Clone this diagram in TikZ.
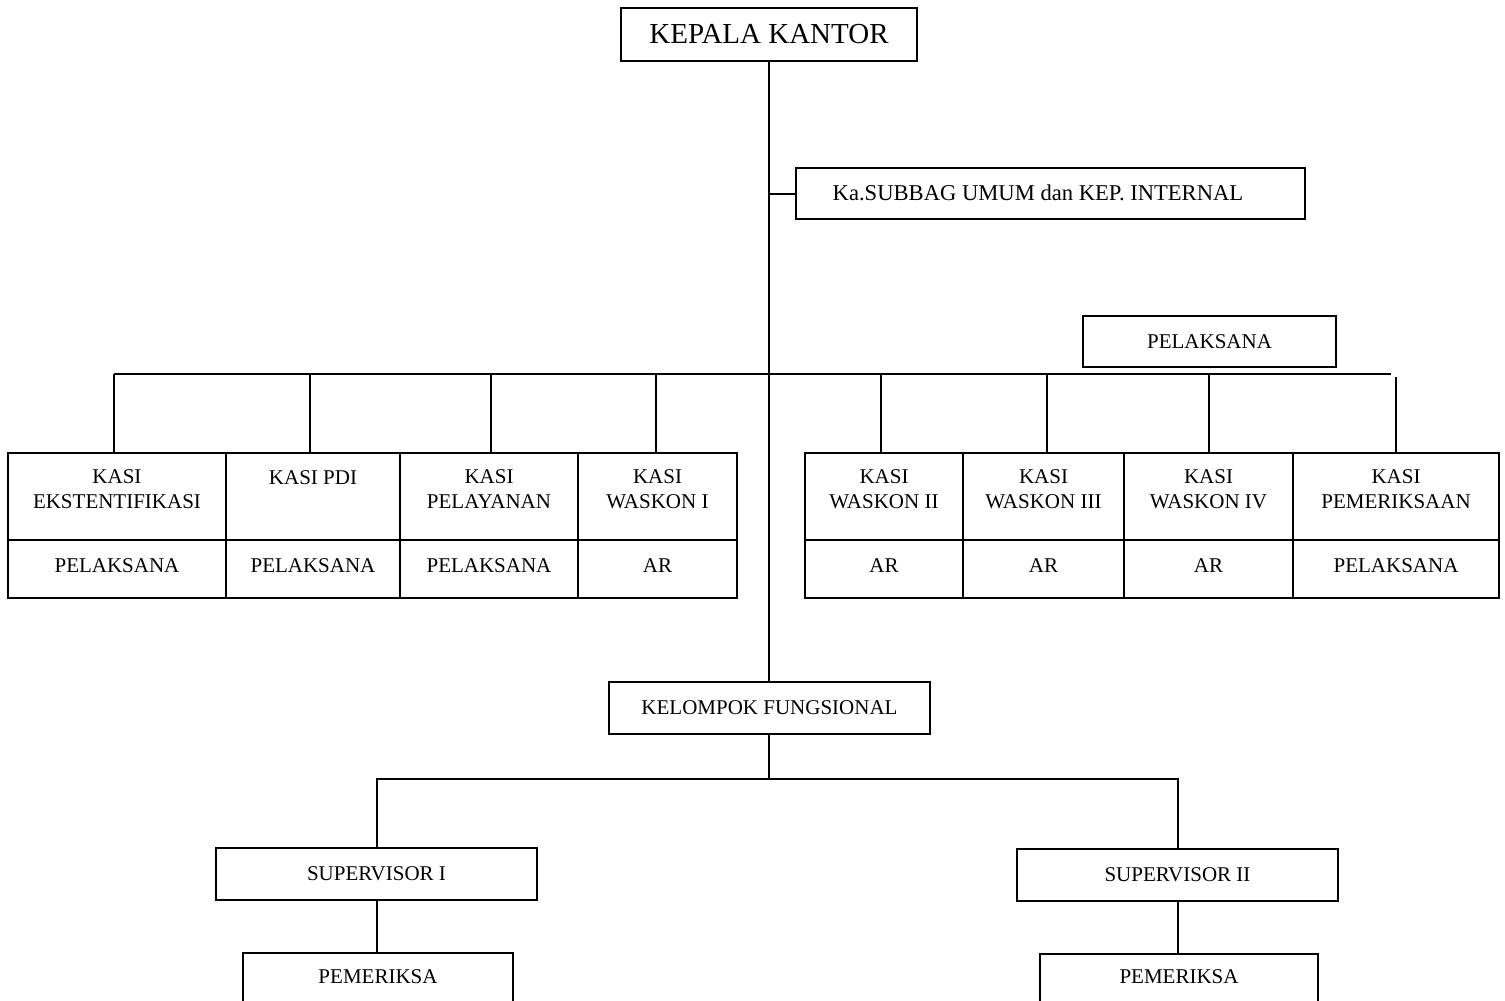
\documentclass[tikz,border=0pt]{standalone}
\usepackage{fontspec}
\setmainfont{Liberation Serif}
\tikzset{
  ln/.style={line width=1pt},
  box/.style={draw, line width=1pt, inner sep=0pt, outer sep=0pt, align=center, font=\fontsize{10.5}{12.5}\selectfont},
  txt/.style={inner sep=0pt, align=center, font=\fontsize{10.5}{12.5}\selectfont},
}
\begin{document}
\begin{tikzpicture}[x=0.5pt,y=-0.5pt]
\useasboundingbox (0,0) rectangle (1505,1001);
\clip (0,0) rectangle (1505,1001);
% top
\node[box, minimum width=148pt, minimum height=26.5pt, font=\fontsize{14.5}{16}\selectfont] (kk) at (769,34.5) {KEPALA KANTOR};
\node[box, minimum width=254.5pt, minimum height=25.5pt] (sub) at (1050.5,193.5) {};
\node[txt, font=\fontsize{11.3}{13}\selectfont] (subt) at (1038,193) {Ka.SUBBAG UMUM dan KEP. INTERNAL};
\node[box, minimum width=126.5pt, minimum height=25.5pt] (pel) at (1209.5,341.5) {PELAKSANA};
% left table
\node[box, minimum width=109pt, minimum height=43.5pt] (l1t) at (117,496.5) {};
\node[box, minimum width=87pt, minimum height=43.5pt] (l2t) at (313,496.5) {};
\node[box, minimum width=89pt, minimum height=43.5pt] (l3t) at (489,496.5) {};
\node[box, minimum width=79.5pt, minimum height=43.5pt] (l4t) at (657.5,496.5) {};
\node[box, minimum width=109pt, minimum height=29pt] (l1b) at (117,569) {};
\node[box, minimum width=87pt, minimum height=29pt] (l2b) at (313,569) {};
\node[box, minimum width=89pt, minimum height=29pt] (l3b) at (489,569) {};
\node[box, minimum width=79.5pt, minimum height=29pt] (l4b) at (657.5,569) {};
% right table
\node[box, minimum width=79pt, minimum height=43.5pt] (r1t) at (884,496.5) {};
\node[box, minimum width=80.5pt, minimum height=43.5pt] (r2t) at (1043.5,496.5) {};
\node[box, minimum width=84.5pt, minimum height=43.5pt] (r3t) at (1208.5,496.5) {};
\node[box, minimum width=103pt, minimum height=43.5pt] (r4t) at (1396,496.5) {};
\node[box, minimum width=79pt, minimum height=29pt] (r1b) at (884,569) {};
\node[box, minimum width=80.5pt, minimum height=29pt] (r2b) at (1043.5,569) {};
\node[box, minimum width=84.5pt, minimum height=29pt] (r3b) at (1208.5,569) {};
\node[box, minimum width=103pt, minimum height=29pt] (r4b) at (1396,569) {};
% table texts
\node[txt] (l1tx) at (117,489) {KASI\\EKSTENTIFIKASI};
\node[txt] (l2tx) at (313,478) {KASI PDI};
\node[txt] (l3tx) at (489,489) {KASI\\PELAYANAN};
\node[txt] (l4tx) at (657.5,489) {KASI\\WASKON I};
\node[txt] (r1tx) at (884,489) {KASI\\WASKON II};
\node[txt] (r2tx) at (1043.5,489) {KASI\\WASKON III};
\node[txt] (r3tx) at (1208.5,489) {KASI\\WASKON IV};
\node[txt] (r4tx) at (1396,489) {KASI\\PEMERIKSAAN};
\node[txt] (l1bx) at (117,566) {PELAKSANA};
\node[txt] (l2bx) at (313,566) {PELAKSANA};
\node[txt] (l3bx) at (489,566) {PELAKSANA};
\node[txt] (l4bx) at (657.5,566) {AR};
\node[txt] (r1bx) at (884,566) {AR};
\node[txt] (r2bx) at (1043.5,566) {AR};
\node[txt] (r3bx) at (1208.5,566) {AR};
\node[txt] (r4bx) at (1396,566) {PELAKSANA};
% lower part
\node[box, minimum width=160.5pt, minimum height=26pt] (kf) at (769.5,708) {KELOMPOK FUNGSIONAL};
\node[box, minimum width=160.5pt, minimum height=26pt] (s1) at (376.5,874) {SUPERVISOR I};
\node[box, minimum width=160.5pt, minimum height=26pt] (s2) at (1177.5,875) {SUPERVISOR II};
\node[box, minimum width=135pt, minimum height=45pt] (p1) at (378,998) {};
\node[box, minimum width=139pt, minimum height=45pt] (p2) at (1179,999) {};
\node[txt] (p1t) at (378,977) {PEMERIKSA};
\node[txt] (p2t) at (1179,977) {PEMERIKSA};
% connectors
\coordinate (busL) at (114,374);
\coordinate (busR) at (1391,374);
\coordinate (d1) at (114,374);
\coordinate (d2) at (310,374);
\coordinate (d3) at (491,374);
\coordinate (d4) at (656,374);
\coordinate (d5) at (881,374);
\coordinate (d6) at (1047,374);
\coordinate (d7) at (1209,374);
\coordinate (d8) at (1396,377);
\coordinate (fb) at (769,779);
\draw[ln] (kk.south) -- (kk.south |- kf.north);
\draw[ln] (kk.south |- sub.west) -- (sub.west);
\draw[ln] (busL) -- (busR);
\draw[ln] (d1) -- (d1 |- l1t.north);
\draw[ln] (d2) -- (d2 |- l2t.north);
\draw[ln] (d3) -- (d3 |- l3t.north);
\draw[ln] (d4) -- (d4 |- l4t.north);
\draw[ln] (d5) -- (d5 |- r1t.north);
\draw[ln] (d6) -- (d6 |- r2t.north);
\draw[ln] (d7) -- (d7 |- r3t.north);
\draw[ln] (d8) -- (d8 |- r4t.north);
\draw[ln] (fb |- kf.south) -- (fb);
\draw[ln] (s1.north) |- (fb) -| (s2.north);
\draw[ln] (s1.south) -- (s1.south |- p1.north);
\draw[ln] (s2.south) -- (s2.south |- p2.north);
\end{tikzpicture}
\end{document}
